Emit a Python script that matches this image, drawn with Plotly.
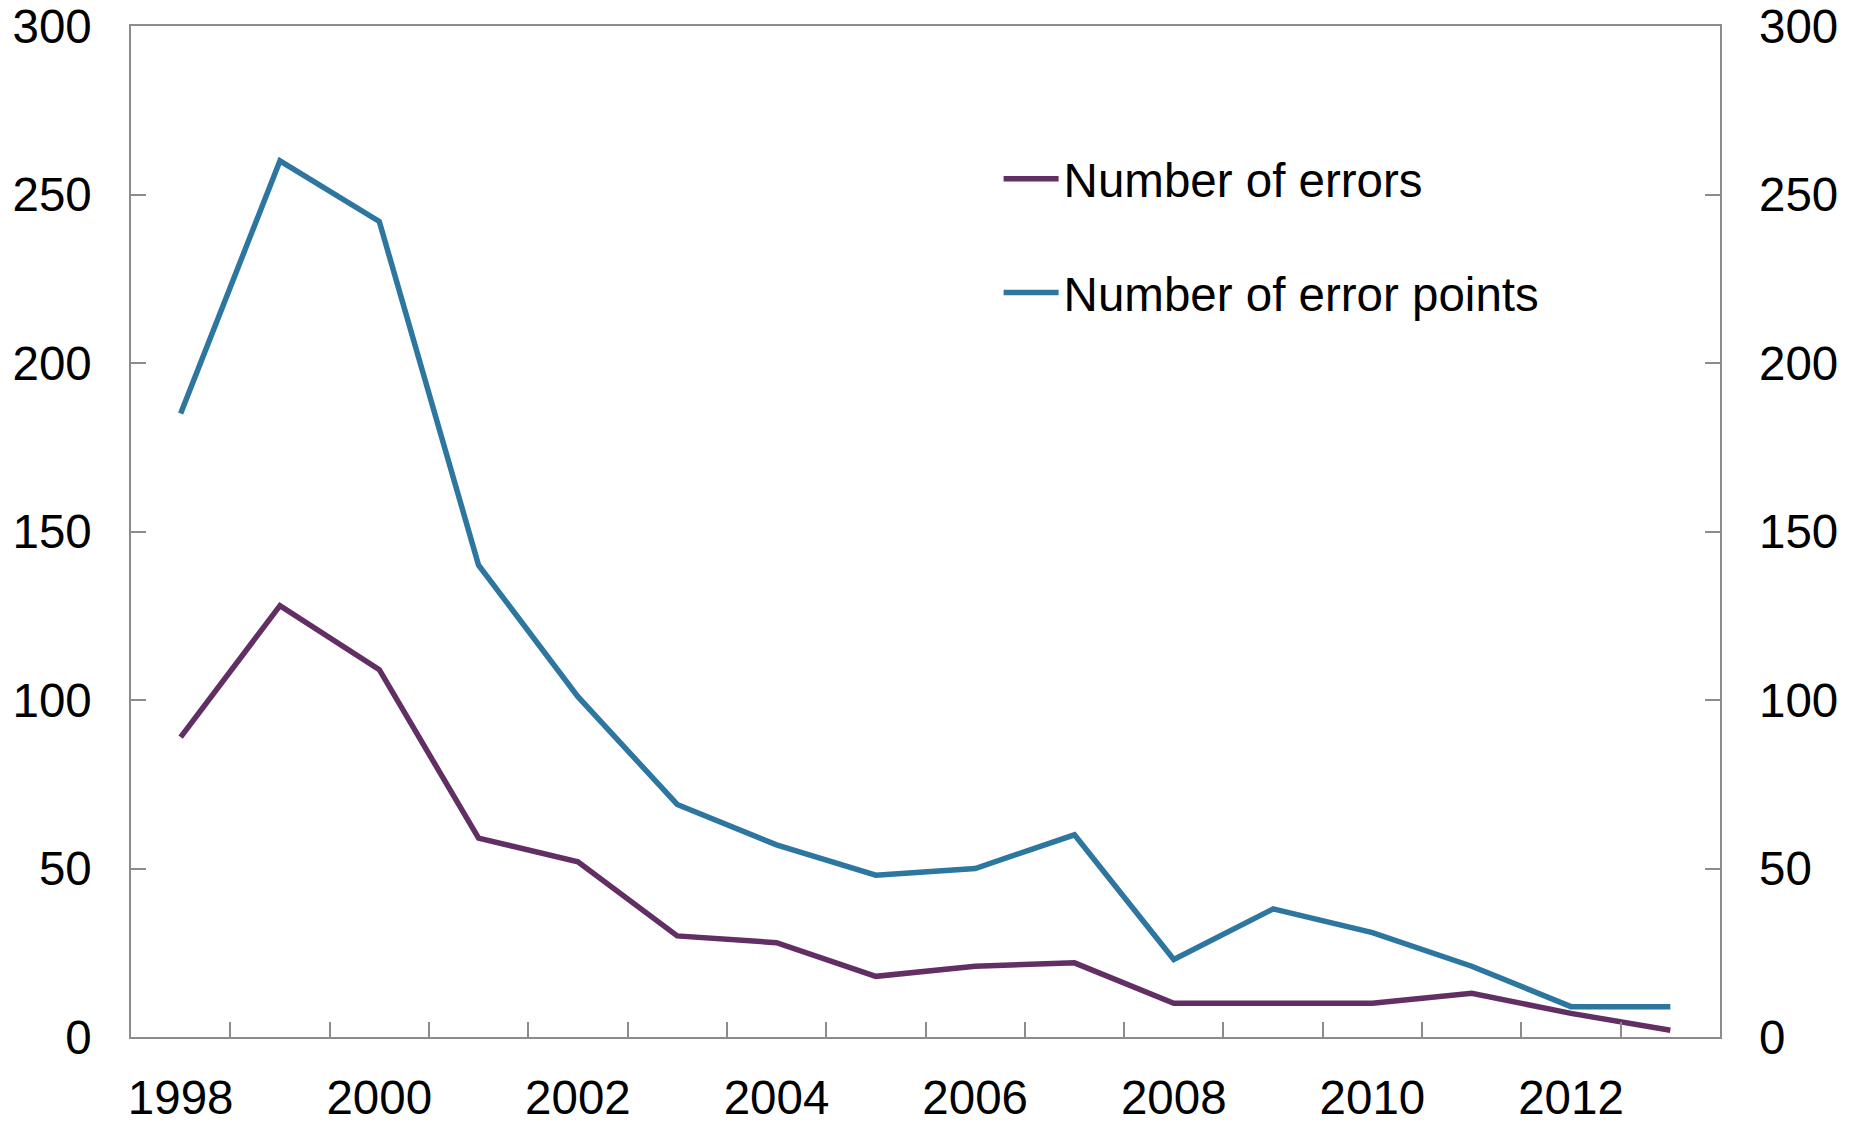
import plotly.graph_objects as go

years = list(range(1998, 2014))
errors = [89, 128, 109, 59, 52, 30, 28, 18, 21, 22, 10, 10, 10, 13, 7, 2]
error_points = [185, 260, 242, 140, 101, 69, 57, 48, 50, 60, 23, 38, 31, 21, 9, 9]
label_years = [1998, 2000, 2002, 2004, 2006, 2008, 2010, 2012]
y_ticks = [0, 50, 100, 150, 200, 250, 300]

PURPLE = "#612F63"
BLUE = "#2C76A0"
AX = "#8C8C8C"
FONT = dict(family="Liberation Sans, Arial, sans-serif", size=47.5, color="#000000")

EXTRA_TOP = 40  # extra room above so the top tick labels are not hidden

fig = go.Figure()
fig.add_trace(go.Scatter(x=years, y=errors, mode="lines", name="Number of errors",
                         line=dict(color=PURPLE, width=5.5), legendgroup="a"))
fig.add_trace(go.Scatter(x=years, y=error_points, mode="lines", name="Number of error points",
                         line=dict(color=BLUE, width=5.5), legendgroup="b"))
fig.add_trace(go.Scatter(x=years, y=error_points, mode="lines", yaxis="y2", showlegend=False,
                         hoverinfo="skip", line=dict(color="rgba(0,0,0,0)", width=0)))

fig.update_layout(
    width=1865, height=1124 + EXTRA_TOP,
    margin=dict(l=131, r=145, t=26 + EXTRA_TOP, b=87),
    paper_bgcolor="white", plot_bgcolor="white",
    font=FONT,
    showlegend=True,
    legend=dict(x=0.546, y=0.886, xanchor="left", yanchor="top",
                bgcolor="rgba(0,0,0,0)", font=FONT, tracegroupgap=49,
                itemwidth=55),
    xaxis=dict(range=[1997.5, 2013.5], tickmode="array", tickvals=label_years,
               ticktext=[str(y) for y in label_years], ticks="", showgrid=False,
               zeroline=False, showline=True, linecolor=AX, linewidth=1.5, mirror=True,
               ticklabelstandoff=18, automargin=False,
               minor=dict(tickmode="array", tickvals=[y + 0.5 for y in years[:-1]],
                          ticks="inside", ticklen=15, tickcolor=AX, tickwidth=1.5,
                          showgrid=False)),
    yaxis=dict(range=[0, 300], tickmode="array", tickvals=y_ticks, ticks="inside",
               ticklen=15, tickcolor=AX, tickwidth=1.5, showgrid=False, zeroline=False,
               showline=True, linecolor=AX, linewidth=1.5, mirror=True,
               ticklabelstandoff=28, automargin=False),
    yaxis2=dict(range=[0, 300], tickmode="array", tickvals=y_ticks, ticks="inside",
                ticklen=15, tickcolor=AX, tickwidth=1.5, showgrid=False, zeroline=False,
                overlaying="y", side="right", showline=False,
                ticklabelstandoff=38, automargin=False),
)

post = ("document.body.style.margin='0';"
        "document.body.style.overflow='hidden';"
        "document.getElementById('{plot_id}').style.marginTop='-%dpx';" % EXTRA_TOP)

fig.write_html("out.html", post_script=post)
